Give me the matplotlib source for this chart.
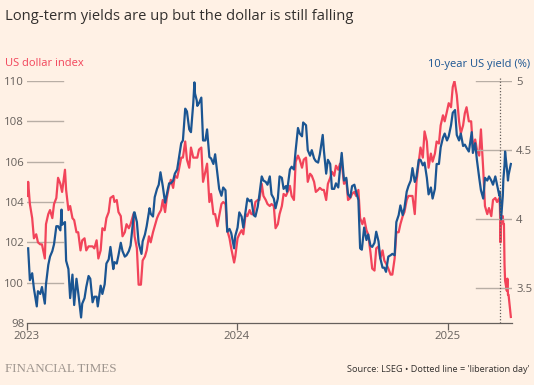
import matplotlib
matplotlib.use("Agg")
import matplotlib.pyplot as plt
import matplotlib.dates as mdates
import pandas as pd

dxy_dates = ["2023-01-02","2023-01-03","2023-01-06","2023-01-10","2023-01-13","2023-01-17","2023-01-20","2023-01-24","2023-01-27","2023-02-01","2023-02-03","2023-02-07","2023-02-10","2023-02-14","2023-02-17","2023-02-21","2023-02-24","2023-02-28","2023-03-03","2023-03-08","2023-03-10","2023-03-14","2023-03-17","2023-03-21","2023-03-24","2023-03-28","2023-03-31","2023-04-04","2023-04-07","2023-04-11","2023-04-14","2023-04-18","2023-04-21","2023-04-25","2023-04-28","2023-05-02","2023-05-05","2023-05-09","2023-05-12","2023-05-16","2023-05-19","2023-05-23","2023-05-26","2023-05-31","2023-06-02","2023-06-06","2023-06-09","2023-06-13","2023-06-16","2023-06-20","2023-06-23","2023-06-27","2023-06-30","2023-07-05","2023-07-07","2023-07-11","2023-07-14","2023-07-18","2023-07-21","2023-07-25","2023-07-28","2023-08-01","2023-08-04","2023-08-08","2023-08-11","2023-08-15","2023-08-18","2023-08-22","2023-08-25","2023-08-29","2023-09-01","2023-09-05","2023-09-08","2023-09-12","2023-09-15","2023-09-19","2023-09-22","2023-09-26","2023-09-29","2023-10-03","2023-10-06","2023-10-10","2023-10-13","2023-10-17","2023-10-20","2023-10-24","2023-10-27","2023-10-31","2023-11-03","2023-11-07","2023-11-10","2023-11-14","2023-11-17","2023-11-21","2023-11-24","2023-11-28","2023-12-01","2023-12-05","2023-12-08","2023-12-12","2023-12-15","2023-12-19","2023-12-22","2023-12-27","2023-12-29",
"2024-01-02","2024-01-05","2024-01-09","2024-01-12","2024-01-16","2024-01-19","2024-01-23","2024-01-26","2024-01-30","2024-02-02","2024-02-06","2024-02-09","2024-02-13","2024-02-16","2024-02-20","2024-02-23","2024-02-27","2024-03-01","2024-03-05","2024-03-08","2024-03-12","2024-03-15","2024-03-19","2024-03-22","2024-03-26","2024-03-29","2024-04-02","2024-04-05","2024-04-09","2024-04-12","2024-04-16","2024-04-19","2024-04-23","2024-04-26","2024-04-30","2024-05-03","2024-05-07","2024-05-10","2024-05-14","2024-05-17","2024-05-21","2024-05-24","2024-05-28","2024-05-31","2024-06-04","2024-06-07","2024-06-11","2024-06-14","2024-06-18","2024-06-21","2024-06-25","2024-06-28","2024-07-02","2024-07-05","2024-07-09","2024-07-12","2024-07-16","2024-07-19","2024-07-23","2024-07-26","2024-07-30","2024-08-02","2024-08-06","2024-08-09","2024-08-13","2024-08-16","2024-08-20","2024-08-23","2024-08-27","2024-08-30","2024-09-03","2024-09-06","2024-09-10","2024-09-13","2024-09-17","2024-09-20","2024-09-24","2024-09-27","2024-10-01","2024-10-04","2024-10-08","2024-10-11","2024-10-15","2024-10-18","2024-10-22","2024-10-25","2024-10-29","2024-11-01","2024-11-05","2024-11-08","2024-11-12","2024-11-15","2024-11-19","2024-11-22","2024-11-26","2024-11-29","2024-12-03","2024-12-06","2024-12-10","2024-12-13","2024-12-17","2024-12-20","2024-12-24","2024-12-27","2024-12-31",
"2025-01-03","2025-01-07","2025-01-10","2025-01-13","2025-01-17","2025-01-21","2025-01-24","2025-01-28","2025-01-31","2025-02-03","2025-02-07","2025-02-11","2025-02-14","2025-02-18","2025-02-21","2025-02-25","2025-02-28","2025-03-04","2025-03-07","2025-03-11","2025-03-14","2025-03-18","2025-03-21","2025-03-25","2025-03-28","2025-04-01","2025-04-02","2025-04-03","2025-04-04","2025-04-07","2025-04-08","2025-04-09","2025-04-10","2025-04-11","2025-04-14","2025-04-15","2025-04-16","2025-04-17","2025-04-21"]
dxy_values = [104.3,105.0,103.9,103.2,102.2,102.4,102.0,101.9,101.9,101.2,102.9,103.4,103.6,103.2,103.9,104.2,105.2,104.9,104.5,105.6,104.6,103.6,103.8,103.2,103.1,102.5,102.5,101.6,102.1,102.2,101.6,101.8,101.8,101.8,101.7,102.1,101.2,101.6,102.7,102.6,103.2,103.5,104.2,104.3,104.0,104.1,103.5,103.3,102.3,102.5,102.9,102.7,102.9,103.4,102.3,101.7,99.9,99.9,101.1,101.3,101.6,102.3,102.0,102.5,102.8,103.2,103.4,103.6,104.1,103.5,104.2,104.8,105.1,104.7,105.3,105.2,105.6,106.2,106.2,107.0,106.1,105.7,106.7,106.2,106.2,106.2,106.6,106.7,105.0,105.5,105.9,104.0,104.4,103.4,103.4,102.8,103.3,103.9,104.0,103.9,102.6,102.2,101.7,101.0,101.3,
102.2,102.4,102.6,102.4,103.4,103.3,103.6,103.4,103.4,104.0,104.1,104.1,104.9,104.3,104.1,103.9,103.8,103.9,103.8,102.7,102.9,103.4,103.8,104.4,104.3,104.5,104.8,104.3,104.1,106.0,106.3,106.1,105.7,106.1,106.2,105.0,105.4,105.3,105.0,104.5,104.6,104.7,104.6,104.6,104.1,104.9,105.2,105.5,105.3,105.8,105.6,105.9,105.7,104.9,105.1,104.1,104.2,104.4,104.5,104.3,104.6,103.2,102.9,103.2,102.6,102.4,101.5,100.7,100.6,101.7,101.8,101.2,101.6,101.1,100.9,100.7,100.4,100.4,101.2,102.5,102.5,102.9,103.3,103.5,104.1,104.3,104.3,104.3,103.4,105.0,106.0,106.7,106.2,107.5,107.0,105.7,106.4,106.0,106.4,107.0,106.9,107.8,108.3,108.0,108.5,
108.9,108.7,109.7,110.0,109.3,108.0,107.4,107.8,108.4,108.7,108.0,108.0,106.7,107.1,106.6,106.3,107.6,105.6,103.8,103.4,103.7,103.3,104.1,104.2,104.0,104.2,103.8,102.0,103.0,103.3,102.9,102.9,100.9,100.1,99.6,100.2,99.4,99.4,98.3]

yld_dates = ["2023-01-03","2023-01-06","2023-01-10","2023-01-13","2023-01-18","2023-01-20","2023-01-24","2023-01-27","2023-02-01","2023-02-03","2023-02-07","2023-02-10","2023-02-14","2023-02-17","2023-02-21","2023-02-24","2023-02-28","2023-03-02","2023-03-03","2023-03-08","2023-03-10","2023-03-14","2023-03-17","2023-03-21","2023-03-24","2023-03-28","2023-03-31","2023-04-05","2023-04-07","2023-04-11","2023-04-14","2023-04-18","2023-04-21","2023-04-25","2023-04-28","2023-05-02","2023-05-04","2023-05-09","2023-05-12","2023-05-16","2023-05-19","2023-05-23","2023-05-26","2023-05-31","2023-06-02","2023-06-06","2023-06-09","2023-06-13","2023-06-16","2023-06-20","2023-06-23","2023-06-27","2023-06-30","2023-07-06","2023-07-07","2023-07-11","2023-07-14","2023-07-19","2023-07-21","2023-07-25","2023-07-28","2023-08-02","2023-08-04","2023-08-08","2023-08-11","2023-08-15","2023-08-18","2023-08-21","2023-08-25","2023-08-29","2023-09-01","2023-09-05","2023-09-08","2023-09-12","2023-09-15","2023-09-19","2023-09-22","2023-09-26","2023-09-29","2023-10-03","2023-10-06","2023-10-10","2023-10-13","2023-10-17","2023-10-19","2023-10-20","2023-10-23","2023-10-24","2023-10-27","2023-10-31","2023-11-03","2023-11-07","2023-11-10","2023-11-14","2023-11-17","2023-11-21","2023-11-24","2023-11-28","2023-12-01","2023-12-05","2023-12-08","2023-12-12","2023-12-15","2023-12-19","2023-12-22","2023-12-27","2023-12-29",
"2024-01-02","2024-01-05","2024-01-09","2024-01-12","2024-01-16","2024-01-19","2024-01-23","2024-01-26","2024-01-30","2024-02-02","2024-02-06","2024-02-09","2024-02-13","2024-02-16","2024-02-20","2024-02-23","2024-02-27","2024-03-01","2024-03-05","2024-03-08","2024-03-12","2024-03-15","2024-03-19","2024-03-22","2024-03-26","2024-03-28","2024-04-02","2024-04-05","2024-04-09","2024-04-12","2024-04-16","2024-04-19","2024-04-23","2024-04-25","2024-04-30","2024-05-03","2024-05-07","2024-05-10","2024-05-14","2024-05-17","2024-05-21","2024-05-24","2024-05-29","2024-05-31","2024-06-04","2024-06-07","2024-06-11","2024-06-14","2024-06-18","2024-06-21","2024-06-25","2024-06-28","2024-07-01","2024-07-05","2024-07-09","2024-07-12","2024-07-16","2024-07-19","2024-07-23","2024-07-26","2024-07-30","2024-08-02","2024-08-05","2024-08-09","2024-08-13","2024-08-16","2024-08-20","2024-08-23","2024-08-27","2024-08-30","2024-09-03","2024-09-06","2024-09-10","2024-09-13","2024-09-16","2024-09-20","2024-09-24","2024-09-27","2024-10-01","2024-10-04","2024-10-08","2024-10-11","2024-10-15","2024-10-18","2024-10-22","2024-10-25","2024-10-29","2024-11-01","2024-11-05","2024-11-08","2024-11-12","2024-11-15","2024-11-19","2024-11-22","2024-11-26","2024-11-29","2024-12-03","2024-12-06","2024-12-10","2024-12-13","2024-12-17","2024-12-20","2024-12-24","2024-12-27","2024-12-31",
"2025-01-03","2025-01-07","2025-01-10","2025-01-14","2025-01-17","2025-01-21","2025-01-24","2025-01-28","2025-01-31","2025-02-04","2025-02-07","2025-02-12","2025-02-14","2025-02-18","2025-02-21","2025-02-25","2025-02-28","2025-03-04","2025-03-07","2025-03-11","2025-03-14","2025-03-18","2025-03-21","2025-03-25","2025-03-28","2025-04-01","2025-04-02","2025-04-03","2025-04-04","2025-04-07","2025-04-08","2025-04-09","2025-04-10","2025-04-11","2025-04-14","2025-04-15","2025-04-16","2025-04-17","2025-04-21"]
yld_values = [3.79,3.56,3.61,3.50,3.37,3.48,3.46,3.51,3.39,3.53,3.67,3.73,3.77,3.82,3.95,3.95,3.92,4.07,3.96,3.98,3.70,3.64,3.43,3.60,3.38,3.57,3.47,3.29,3.39,3.43,3.51,3.59,3.57,3.40,3.44,3.44,3.37,3.52,3.46,3.53,3.68,3.71,3.80,3.64,3.69,3.68,3.74,3.83,3.77,3.73,3.74,3.77,3.81,4.05,4.05,3.98,3.83,3.75,3.84,3.89,3.95,4.08,4.04,4.02,4.16,4.22,4.25,4.34,4.24,4.12,4.18,4.26,4.26,4.28,4.33,4.36,4.44,4.55,4.57,4.80,4.78,4.65,4.63,4.84,4.99,4.91,4.86,4.82,4.84,4.88,4.57,4.57,4.65,4.45,4.44,4.40,4.47,4.33,4.22,4.17,4.23,4.21,3.91,3.93,3.90,3.79,3.88,
3.94,4.05,4.02,3.94,4.06,4.15,4.13,4.14,4.03,4.02,4.09,4.18,4.31,4.28,4.27,4.25,4.31,4.18,4.15,4.08,4.15,4.31,4.30,4.22,4.24,4.20,4.36,4.38,4.36,4.50,4.66,4.62,4.60,4.70,4.68,4.50,4.46,4.50,4.44,4.42,4.41,4.47,4.61,4.50,4.33,4.43,4.40,4.22,4.22,4.26,4.23,4.36,4.48,4.28,4.30,4.18,4.16,4.24,4.25,4.20,4.14,3.79,3.78,3.94,3.85,3.89,3.81,3.80,3.83,3.91,3.84,3.72,3.65,3.65,3.62,3.73,3.74,3.75,3.74,3.98,4.03,4.10,4.03,4.08,4.20,4.24,4.28,4.37,4.27,4.31,4.43,4.43,4.39,4.41,4.30,4.18,4.23,4.15,4.22,4.40,4.40,4.52,4.59,4.62,4.57,
4.60,4.68,4.77,4.79,4.61,4.57,4.62,4.53,4.54,4.51,4.49,4.63,4.48,4.55,4.43,4.30,4.21,4.15,4.30,4.28,4.31,4.28,4.25,4.31,4.25,4.17,4.20,4.06,4.00,4.17,4.29,4.34,4.39,4.49,4.37,4.33,4.28,4.32,4.40]

dxy_ticks = [100, 102, 104, 106, 108, 110]
yld_ticks = [3.5, 4, 4.5, 5]
yld_tick_labels = ["3.5", "4", "4.5", "5"]
year_ticks = ["2023-01-01", "2024-01-01", "2025-01-01"]
year_labels = ["2023", "2024", "2025"]
liberation_day = "2025-04-02"

title = "Long-term yields are up but the dollar is still falling"
left_label = "US dollar index"
right_label = "10-year US yield (%)"
source = "Source: LSEG \u2022 Dotted line = 'liberation day'"

BG = "#FFF1E5"
RED = "#F2445A"
BLUE = "#1B5592"
GRID = "#B8AEA5"
TXT = "#66605C"

plt.rcParams['font.family'] = ['Open Sans', 'DejaVu Sans']

fig = plt.figure(figsize=(5.34, 3.85), dpi=100, facecolor=BG)
ax = fig.add_axes([27/534, 62/385, 485/534, 242/385])
ax.set_facecolor(BG)
ax2 = ax.twinx()

dx = pd.to_datetime(dxy_dates)
dy = pd.to_datetime(yld_dates)

ax.set_xlim(pd.Timestamp("2023-01-01"), pd.Timestamp("2025-04-23"))
ax.set_ylim(98, 110)
ax2.set_ylim(3.25, 5.0)

frac = 36/485
for v in dxy_ticks:
    ax.axhline(v, xmin=0, xmax=frac, color=GRID, lw=1, zorder=1)
for v in yld_ticks:
    ax2.axhline(v, xmin=1-frac, xmax=1, color=GRID, lw=1, zorder=1)

ax.plot(dx, dxy_values, color=RED, lw=1.6, zorder=3, solid_joinstyle='round')
ax2.plot(dy, yld_values, color=BLUE, lw=1.6, zorder=3, solid_joinstyle='round')

ax2.axvline(pd.Timestamp(liberation_day), ymin=0, ymax=1.012, color="#66605C", lw=0.9,
            linestyle=(0, (1, 1.5)), clip_on=False, zorder=4)

for a in (ax, ax2):
    for s in a.spines.values():
        s.set_visible(False)
ax.spines['bottom'].set_visible(True)
ax.spines['bottom'].set_color("#66605C")
ax.spines['bottom'].set_linewidth(0.9)

ax.set_yticks(dxy_ticks + [98])
ax.set_yticklabels([str(v) for v in dxy_ticks] + ["98"])
ax.tick_params(axis='y', length=0, pad=2, labelsize=8.2, labelcolor=TXT)
ax2.set_yticks(yld_ticks)
ax2.set_yticklabels(yld_tick_labels)
ax2.tick_params(axis='y', length=0, pad=3, labelsize=8.2, labelcolor=TXT)

ax.set_xticks(pd.to_datetime(year_ticks))
ax.set_xticklabels(year_labels)
ax.tick_params(axis='x', length=5, width=0.9, color="#66605C", pad=1, labelsize=8.2, labelcolor=TXT)

fig.text(5/534, 1 - 17/385, title, fontsize=10.6, color="#33302E", va='center', ha='left')
fig.text(5/534, 1 - 64/385, left_label, fontsize=8.0, color=RED, va='center', ha='left')
fig.text(530/534, 1 - 64/385, right_label, fontsize=8.0, color=BLUE, va='center', ha='right')
fig.text(5/534, 1 - 369/385, "FINANCIAL TIMES", fontsize=9.4, color="#9E958E", va='center', ha='left',
         family=['Liberation Serif', 'DejaVu Serif'])
fig.text(530/534, 1 - 370/385, source, fontsize=6.6, color="#33302E", va='center', ha='right')

fig.savefig("out.png", dpi=100, facecolor=BG)
